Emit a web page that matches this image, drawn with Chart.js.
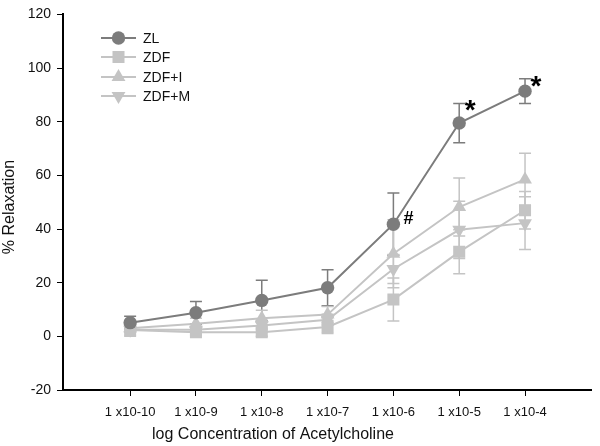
<!DOCTYPE html>
<html>
<head>
<meta charset="utf-8">
<script src="https://cdn.jsdelivr.net/npm/chart.js@4.4.1/dist/chart.umd.min.js"></script>
<style>
  html, body { margin: 0; padding: 0; background: #fff; }
  #wrap { width: 600px; height: 446px; }
</style>
</head>
<body>
<div id="wrap"><canvas id="chart" width="600" height="446"></canvas></div>
<script>
// Acetylcholine concentrations (labels) and their log10 positions
const concLabels = ['1 x10-10', '1 x10-9', '1 x10-8', '1 x10-7', '1 x10-6', '1 x10-5', '1 x10-4'];
const logConc = [-10, -9, -8, -7, -6, -5, -4];
const yTicks = [-20, 0, 20, 40, 60, 80, 100, 120];

// % relaxation, mean and SEM per group
const zl = [5.1, 8.8, 13.4, 18.1, 41.8, 79.5, 91.4];
const zlErr = [2.4, 4.2, 7.5, 6.7, 11.6, 7.3, 4.6];
const zdf = [2.4, 1.5, 1.5, 3.5, 13.7, 31.5, 47.0];
const zdfErr = [2.4, 1.0, 1.5, 2.4, 8.0, 8.2, 7.0];
const zdfI = [3.0, 4.7, 6.7, 8.1, 30.8, 48.2, 58.5];
const zdfIErr = [1.5, 2.0, 3.0, 3.0, 12.7, 10.8, 9.7];
const zdfM = [2.5, 2.5, 4.0, 6.2, 25.1, 39.7, 42.2];
const zdfMErr = [1.0, 1.0, 1.5, 2.0, 5.4, 10.7, 9.8];

// significance marks on the ZL curve
const zlMarks = ['', '', '', '', '#', '*', '*'];

const FONT = "'Liberation Sans', Arial, Helvetica, sans-serif";
const DARK = '#7c7c7c';
const LIGHT = '#c4c4c4';
const TEXT = '#111';

function points(vals) {
  return vals.map((v, i) => ({ x: logConc[i], y: v }));
}

function series(label, vals, errs, color, style, radius, rotation) {
  return {
    label,
    data: points(vals),
    errors: errs,
    borderColor: color,
    backgroundColor: color,
    borderWidth: 2,
    pointStyle: style,
    pointRadius: radius,
    pointHoverRadius: radius,
    pointRotation: rotation || 0,
    pointBorderWidth: 0,
    pointBackgroundColor: color,
    tension: 0
  };
}

// vertical SEM bars with caps, drawn under the lines
const errorBars = {
  id: 'errorBars',
  beforeDatasetsDraw(chart) {
    const { ctx, scales: { x, y } } = chart;
    chart.data.datasets.forEach((ds) => {
      ctx.save();
      ctx.strokeStyle = ds.borderColor;
      ctx.lineWidth = 1.5;
      ds.data.forEach((p, i) => {
        const e = ds.errors[i];
        const px = x.getPixelForValue(p.x);
        const top = y.getPixelForValue(p.y + e);
        const bot = y.getPixelForValue(p.y - e);
        ctx.beginPath();
        ctx.moveTo(px, top); ctx.lineTo(px, bot);
        ctx.moveTo(px - 6, top); ctx.lineTo(px + 6, top);
        ctx.moveTo(px - 6, bot); ctx.lineTo(px + 6, bot);
        ctx.stroke();
      });
      ctx.restore();
    });
  }
};

// '#' beside the point, '*' beside the top of the error bar
const sigMarks = {
  id: 'sigMarks',
  afterDatasetsDraw(chart) {
    const { ctx, scales: { x, y } } = chart;
    ctx.save();
    ctx.fillStyle = '#000';
    ctx.textAlign = 'center';
    ctx.textBaseline = 'alphabetic';
    zlMarks.forEach((m, i) => {
      if (!m) return;
      const px = x.getPixelForValue(logConc[i]);
      if (m === '*') {
        ctx.font = 'bold 28px ' + FONT;
        ctx.fillText(m, px + 11, y.getPixelForValue(zl[i] + zlErr[i]) + 16);
      } else {
        ctx.font = 'bold 18px ' + FONT;
        ctx.fillText(m, px + 15, y.getPixelForValue(zl[i]) - 0.5);
      }
    });
    ctx.restore();
  }
};

// legend inside the plot, line + marker like the original
const insideLegend = {
  id: 'insideLegend',
  afterDraw(chart) {
    const { ctx } = chart;
    const rows = [38, 57, 77, 96];
    ctx.save();
    chart.data.datasets.forEach((ds, i) => {
      const yy = rows[i];
      ctx.strokeStyle = ds.borderColor;
      ctx.lineWidth = 2;
      ctx.beginPath();
      ctx.moveTo(101, yy); ctx.lineTo(136, yy);
      ctx.stroke();
      ctx.fillStyle = ds.pointBackgroundColor;
      Chart.helpers.drawPoint(ctx, {
        pointStyle: ds.pointStyle,
        radius: ds.pointRadius,
        rotation: ds.pointRotation,
        borderWidth: 0
      }, 118.5, yy);
      ctx.fillStyle = TEXT;
      ctx.font = '14px ' + FONT;
      ctx.textAlign = 'left';
      ctx.textBaseline = 'middle';
      ctx.fillText(ds.label, 143, yy + 1);
    });
    ctx.restore();
  }
};

// axis titles placed where the original has them
const axisTitles = {
  id: 'axisTitles',
  afterDraw(chart) {
    const { ctx } = chart;
    ctx.save();
    ctx.fillStyle = TEXT;
    ctx.font = '16px ' + FONT;
    ctx.textAlign = 'center';
    ctx.textBaseline = 'middle';
    ctx.fillText('log Concentration of Acetylcholine', 273, 435);
    ctx.translate(10, 207);
    ctx.rotate(-Math.PI / 2);
    ctx.fillText('% Relaxation', 0, 0);
    ctx.restore();
  }
};

new Chart(document.getElementById('chart'), {
  type: 'line',
  data: {
    datasets: [
      series('ZL', zl, zlErr, DARK, 'circle', 6.7),
      series('ZDF', zdf, zdfErr, LIGHT, 'rect', 8.5),
      series('ZDF+I', zdfI, zdfIErr, LIGHT, 'triangle', 8),
      series('ZDF+M', zdfM, zdfMErr, LIGHT, 'triangle', 8, 180)
    ]
  },
  options: {
    responsive: false,
    animation: false,
    devicePixelRatio: 1,
    layout: { padding: { top: 6, right: 2, left: 0, bottom: 0 } },
    plugins: {
      legend: { display: false },
      tooltip: { enabled: false }
    },
    scales: {
      x: {
        type: 'linear',
        min: -11.02,
        max: -2.99,
        grid: { drawOnChartArea: false, drawTicks: true, tickLength: 6, tickColor: '#000', tickWidth: 1 },
        border: { display: true, color: '#000', width: 2 },
        afterBuildTicks: (scale) => { scale.ticks = logConc.map(v => ({ value: v })); },
        afterFit: (scale) => { scale.height = 56; scale.paddingLeft = 0; scale.paddingRight = 0; },
        ticks: {
          maxRotation: 0,
          autoSkip: false,
          padding: 9,
          color: TEXT,
          font: { family: FONT, size: 13 },
          callback: (v) => concLabels[logConc.indexOf(v)]
        }
      },
      y: {
        min: -20,
        max: 120,
        grid: { drawOnChartArea: false, drawTicks: true, tickLength: 6, tickColor: '#000', tickWidth: 1 },
        border: { display: true, color: '#000', width: 2 },
        afterBuildTicks: (scale) => { scale.ticks = yTicks.map(v => ({ value: v })); },
        afterFit: (scale) => { scale.width = 63; },
        ticks: {
          padding: 6,
          color: TEXT,
          font: { family: FONT, size: 14 }
        }
      }
    }
  },
  plugins: [errorBars, sigMarks, insideLegend, axisTitles]
});
</script>
</body>
</html>
